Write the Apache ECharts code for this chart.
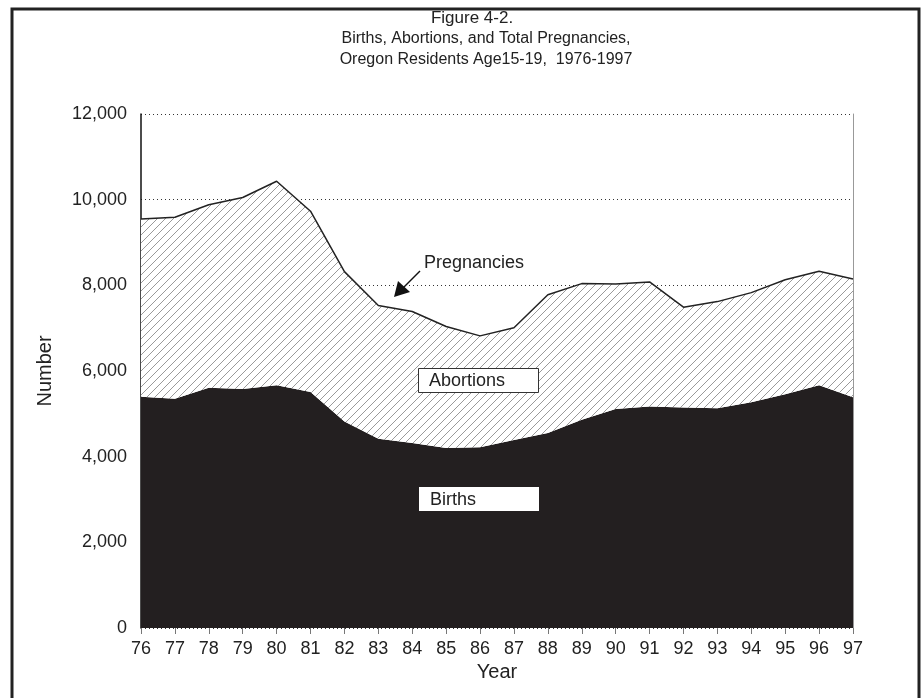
<!DOCTYPE html>
<html>
<head>
<meta charset="utf-8">
<script src="https://cdn.jsdelivr.net/npm/echarts@6/dist/echarts.min.js"></script>
<style>
  html, body { margin: 0; padding: 0; background: #fff; }
  #chart { width: 922px; height: 698px; }
</style>
</head>
<body>
<div id="chart"></div>
<script>
const years = ["76","77","78","79","80","81","82","83","84","85","86","87","88","89","90","91","92","93","94","95","96","97"];
const births = [5400,5350,5610,5580,5670,5510,4820,4420,4320,4200,4220,4390,4550,4860,5110,5170,5150,5130,5270,5460,5670,5390];
const abortions = [4150,4240,4270,4470,4760,4220,3500,3110,3070,2840,2600,2620,3230,3180,2920,2910,2340,2490,2560,2670,2660,2760];
const yTicks = [0, 2000, 4000, 6000, 8000, 10000, 12000];

const font = "'Liberation Sans', Arial, sans-serif";

// hatch pattern for the abortions band
const hatch = document.createElement("canvas");
hatch.width = 8;
hatch.height = 8;
const hc = hatch.getContext("2d");
hc.fillStyle = "#fff";
hc.fillRect(0, 0, 8, 8);
hc.strokeStyle = "#9a9a9a";
hc.lineWidth = 1;
hc.beginPath();
hc.moveTo(0, 8); hc.lineTo(8, 0);
hc.moveTo(-4, 4); hc.lineTo(4, -4);
hc.moveTo(4, 12); hc.lineTo(12, 4);
hc.stroke();

const chart = echarts.init(document.getElementById("chart"));

chart.setOption({
  backgroundColor: "#fff",
  animation: false,
  textStyle: { fontFamily: font },
  grid: { left: 141, right: 69, top: 114, bottom: 70 },
  xAxis: {
    type: "category",
    data: years,
    boundaryGap: false,
    name: "Year",
    nameLocation: "middle",
    nameGap: 33,
    nameTextStyle: { fontSize: 20, color: "#222" },
    axisLine: { show: false },
    axisTick: { show: true, length: 6, lineStyle: { color: "#777" }, alignWithLabel: true },
    axisLabel: { fontSize: 18, color: "#222", margin: 12 }
  },
  yAxis: [{
    type: "value",
    min: 0,
    max: 12000,
    interval: 2000,
    name: "Number",
    nameLocation: "middle",
    nameGap: 86,
    nameRotate: 90,
    nameTextStyle: { fontSize: 20, color: "#222" },
    axisLine: { show: true, lineStyle: { color: "#111", width: 1.5 } },
    axisTick: { show: false },
    axisLabel: {
      fontSize: 18, color: "#222", margin: 14,
      formatter: v => yTicks.includes(v) ? v.toLocaleString("en-US") : ""
    },
    splitLine: { show: true, lineStyle: { color: "#333", type: [1, 3], width: 1 } }
  }, {
    type: "value",
    position: "right",
    min: 0,
    max: 12000,
    interval: 2000,
    axisLine: { show: true, lineStyle: { color: "#999", width: 1 } },
    axisTick: { show: false },
    axisLabel: { show: false },
    splitLine: { show: false }
  }],
  series: [
    {
      name: "Births",
      type: "line",
      stack: "total",
      data: births,
      symbol: "none",
      lineStyle: { width: 0 },
      areaStyle: { color: "#231f20", opacity: 1 },
      z: 2
    },
    {
      name: "Abortions",
      type: "line",
      stack: "total",
      data: abortions,
      symbol: "none",
      lineStyle: { color: "#222", width: 1.5 },
      areaStyle: { color: { image: hatch, repeat: "repeat" }, opacity: 1 },
      z: 3
    }
  ],
  graphic: [
    // outer frame
    { type: "rect", shape: { x: 12, y: 9, width: 907, height: 700 }, style: { fill: null, stroke: "#222", lineWidth: 3 }, silent: true },
    // title
    { type: "text", style: { text: "Figure 4-2.", x: 472, y: 18, align: "center", verticalAlign: "middle", font: "17px " + font, fill: "#222" } },
    { type: "text", style: { text: "Births, Abortions, and Total Pregnancies,", x: 486, y: 39, align: "center", verticalAlign: "middle", font: "16px " + font, fill: "#222" } },
    { type: "text", style: { text: "Oregon Residents Age15-19,  1976-1997", x: 486, y: 60, align: "center", verticalAlign: "middle", font: "16px " + font, fill: "#222" } },
    // annotations
    { type: "text", z: 10, style: { text: "Pregnancies", x: 424, y: 263, verticalAlign: "middle", font: "18px " + font, fill: "#222" } },
    { type: "line", z: 10, shape: { x1: 420, y1: 271, x2: 403, y2: 288 }, style: { stroke: "#111", lineWidth: 1.5 } },
    { type: "polygon", z: 10, shape: { points: [[394, 297], [398, 281], [410, 292]] }, style: { fill: "#111" } },
    { type: "rect", z: 10, shape: { x: 418.5, y: 368.5, width: 120, height: 24 }, style: { fill: "#fff", stroke: "#333", lineWidth: 1 } },
    { type: "text", z: 11, style: { text: "Abortions", x: 429, y: 381, verticalAlign: "middle", font: "18px " + font, fill: "#222" } },
    { type: "rect", z: 10, shape: { x: 419, y: 487, width: 120, height: 24 }, style: { fill: "#fff" } },
    { type: "text", z: 11, style: { text: "Births", x: 430, y: 500, verticalAlign: "middle", font: "18px " + font, fill: "#222" } }
  ]
});

window.onresize = function () {
  chart.resize();
};
</script>
</body>
</html>
